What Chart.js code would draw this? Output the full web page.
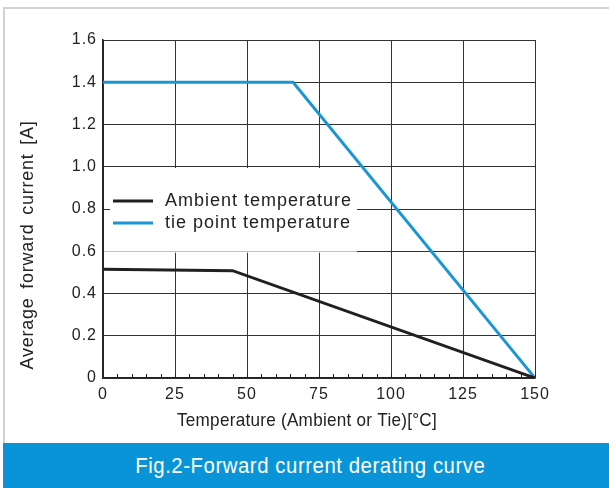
<!DOCTYPE html>
<html>
<head>
<meta charset="utf-8">
<script src="https://cdn.jsdelivr.net/npm/chart.js@4.4.1/dist/chart.umd.min.js"></script>
<style>
  html, body { margin: 0; padding: 0; background: #fff; }
  #wrap { position: relative; width: 609px; height: 488px; overflow: hidden; }
  #frame { position: absolute; left: 3px; top: 7px; width: 606px; height: 436px;
           border-top: 2px solid #d2d2d2; border-left: 2px solid #d2d2d2; box-sizing: border-box; }
  #chartBox { position: absolute; left: 0; top: 0; width: 609px; height: 443px; }
  #band { position: absolute; left: 3px; top: 443px; width: 606px; height: 45px; background: #0894d7;
          color: #fff; font-family: 'Liberation Sans', Arial, sans-serif;
          font-size: 22px; letter-spacing: 0.6px; text-align: center; line-height: 45px; }
  #band span { display: inline-block; transform: scaleX(0.925); transform-origin: center; margin-left: 8px; }
</style>
</head>
<body>
<div id="wrap">
  <div id="frame"></div>
  <div id="chartBox"><canvas id="c" width="609" height="443"></canvas></div>
  <div id="band"><span>Fig.2-Forward current derating curve</span></div>
</div>
<script>
// ---- data ----
const seriesNames = ['Ambient temperature', 'tie point temperature'];
const ambientX = [0, 45, 150];
const ambientY = [0.515, 0.508, 0];
const tieX = [0, 66, 150];
const tieY = [1.4, 1.4, 0];
const xTicks = [0, 25, 50, 75, 100, 125, 150];
const yTicks = [0, 0.2, 0.4, 0.6, 0.8, 1.0, 1.2, 1.4, 1.6];
const xTitle = 'Temperature (Ambient or Tie)[\u00B0C]';
const yTitle = 'Average forward current [A]';

const pts = (xs, ys) => xs.map((x, i) => ({ x: x, y: ys[i] }));

const LEFT = 103, RIGHT = 535, TOP = 40, BOTTOM = 378;

const decor = {
  id: 'decor',
  beforeDraw(chart) {
    chart.ctx.letterSpacing = '1px';
  },
  beforeDatasetsDraw(chart) {
    const ctx = chart.ctx, xs = chart.scales.x, ys = chart.scales.y;
    // minor ticks on x axis (inside, upwards)
    ctx.save();
    ctx.strokeStyle = '#222';
    ctx.lineWidth = 1;
    for (let v = 0; v <= 150; v += 5) {
      const px = Math.round(xs.getPixelForValue(v)) + 0.5;
      ctx.beginPath();
      ctx.moveTo(px, ys.bottom);
      ctx.lineTo(px, ys.bottom - 4);
      ctx.stroke();
    }
    // legend box (white), covering the grid
    const bx0 = xs.left + 7, bx1 = 357, by0 = 168, by1 = 251;
    ctx.fillStyle = '#fff';
    ctx.fillRect(bx0, by0, bx1 - bx0, by1 - by0);
    // faded grid line under the legend box
    ctx.fillStyle = 'rgba(255,255,255,0.7)';
    ctx.fillRect(xs.left + 1, by1, bx1 - xs.left - 1, 2);
    // legend entries from datasets
    ctx.font = '18px "Liberation Sans", Arial, sans-serif';
    ctx.letterSpacing = '1px';
    ctx.textBaseline = 'middle';
    ctx.textAlign = 'left';
    const rows = [201, 223];
    chart.data.datasets.forEach((ds, i) => {
      ctx.strokeStyle = ds.borderColor;
      ctx.lineWidth = 3;
      ctx.beginPath();
      ctx.moveTo(113, rows[i]);
      ctx.lineTo(153, rows[i]);
      ctx.stroke();
      ctx.fillStyle = '#222';
      ctx.fillText(ds.label, 165, rows[i]);
    });
    ctx.restore();
  },
  afterDraw(chart) {
    const ctx = chart.ctx;
    ctx.save();
    ctx.fillStyle = '#222';
    ctx.textBaseline = 'middle';
    ctx.textAlign = 'center';
    // y-axis title
    ctx.font = '18px "Liberation Sans", Arial, sans-serif';
    ctx.letterSpacing = '0.75px';
    ctx.wordSpacing = '3px';
    ctx.translate(28, 245);
    ctx.rotate(-Math.PI / 2);
    ctx.fillText(yTitle, 0, 0);
    ctx.restore();
    // x-axis title (condensed)
    ctx.save();
    ctx.fillStyle = '#222';
    ctx.textBaseline = 'middle';
    ctx.textAlign = 'center';
    ctx.font = '19px "Liberation Sans", Arial, sans-serif';
    ctx.letterSpacing = '0.3px';
    ctx.translate(307, 421);
    ctx.scale(0.9, 1);
    ctx.fillText(xTitle, 0, 0);
    ctx.restore();
  }
};

new Chart(document.getElementById('c'), {
  type: 'line',
  data: {
    datasets: [
      { label: seriesNames[0], data: pts(ambientX, ambientY), borderColor: '#231f20', borderWidth: 3, pointRadius: 0, tension: 0 },
      { label: seriesNames[1], data: pts(tieX, tieY), borderColor: '#1b96d4', borderWidth: 3, pointRadius: 0, tension: 0 }
    ]
  },
  options: {
    responsive: false,
    animation: false,
    layout: { padding: { left: 0, top: TOP, right: 609 - RIGHT, bottom: 0 } },
    plugins: { legend: { display: false }, tooltip: { enabled: false } },
    scales: {
      x: {
        type: 'linear', min: 0, max: 150,
        afterBuildTicks: (s) => { s.ticks = xTicks.map(v => ({ value: v })); },
        afterFit: (s) => { s.height = 443 - BOTTOM; },
        grid: { color: '#333', lineWidth: 1, drawTicks: false },
        border: { color: '#222', width: 1.5 },
        ticks: { padding: 7, color: '#222', font: { family: '"Liberation Sans", Arial, sans-serif', size: 16 } }
      },
      y: {
        min: 0, max: 1.6,
        afterBuildTicks: (s) => { s.ticks = yTicks.map(v => ({ value: v })); },
        afterFit: (s) => { s.width = LEFT; },
        grid: { color: '#333', lineWidth: 1, drawTicks: false },
        border: { color: '#222', width: 1.5 },
        ticks: {
          padding: 6, color: '#222',
          font: { family: '"Liberation Sans", Arial, sans-serif', size: 16 },
          callback: (v) => v === 0 ? '0' : v.toFixed(1)
        }
      }
    }
  },
  plugins: [decor]
});
</script>
</body>
</html>
